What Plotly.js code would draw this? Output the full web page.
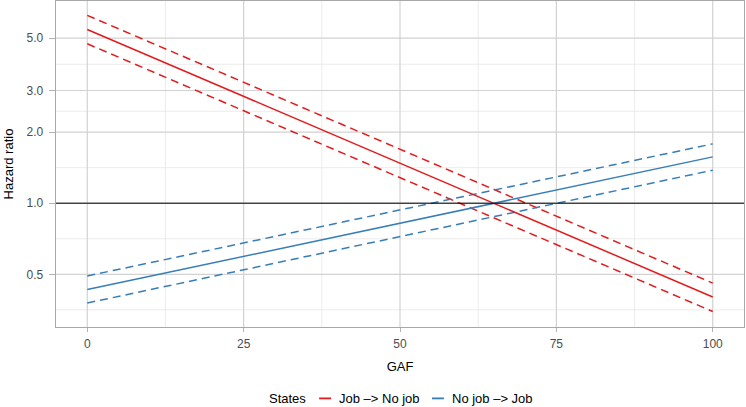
<!DOCTYPE html>
<html>
<head>
<meta charset="utf-8">
<script src="https://cdn.plot.ly/plotly-3.0.1.min.js"></script>
<style>html,body{margin:0;padding:0;background:#fff;}#chart{width:746px;height:407px;}</style>
</head>
<body>
<div id="chart"></div>
<script>
// GAF values at the ends of each fitted line
const gaf = [0, 100];

// State: Job -> No job (hazard ratio, lower CI, upper CI)
const jobToNoJob = [5.44, 0.401];
const jobToNoJobLower = [4.73, 0.348];
const jobToNoJobUpper = [6.24, 0.459];

// State: No job -> Job
const noJobToJob = [0.431, 1.571];
const noJobToJobLower = [0.378, 1.380];
const noJobToJobUpper = [0.492, 1.783];

const seriesNames = ['Job \u2013> No job', 'No job \u2013> Job'];
const legendTitle = 'States';
const xTicks = [0, 25, 50, 75, 100];
const yTicks = [0.5, 1.0, 2.0, 3.0, 5.0];
const yTickLabels = ['0.5', '1.0', '2.0', '3.0', '5.0'];
const referenceHR = 1;

const RED = '#E41A1C';
const BLUE = '#377EB8';
const colors = [RED, BLUE];
const DASH = '8px,5px';

function line(y, color, dashed) {
  return {
    x: gaf, y: y, type: 'scatter', mode: 'lines', showlegend: false,
    line: {color: color, width: 1.5, dash: dashed ? DASH : 'solid'},
    hoverinfo: 'skip'
  };
}

const traces = [
  line(jobToNoJobUpper, RED, true),
  line(jobToNoJobLower, RED, true),
  line(noJobToJobUpper, BLUE, true),
  line(noJobToJobLower, BLUE, true),
  line(jobToNoJob, RED, false),
  line(noJobToJob, BLUE, false)
];

// minor gridlines midway between major breaks (in transformed space, as ggplot does)
const yMinor = [yTicks[0] / Math.SQRT2];
for (let i = 1; i < yTicks.length; i++) yMinor.push(Math.sqrt(yTicks[i] * yTicks[i - 1]));
const xMinor = [];
for (let i = 1; i < xTicks.length; i++) xMinor.push((xTicks[i] + xTicks[i - 1]) / 2);

const MAJOR = {color: '#D2D2D2', width: 1.2};
const MINOR = {color: '#E4E4E4', width: 0.7};
const shapes = [];
xMinor.forEach(v => shapes.push({type: 'line', layer: 'below', xref: 'x', yref: 'paper', x0: v, x1: v, y0: 0, y1: 1, line: MINOR}));
yMinor.forEach(v => shapes.push({type: 'line', layer: 'below', xref: 'paper', yref: 'y', x0: 0, x1: 1, y0: v, y1: v, line: MINOR}));
xTicks.forEach(v => shapes.push({type: 'line', layer: 'below', xref: 'x', yref: 'paper', x0: v, x1: v, y0: 0, y1: 1, line: MAJOR}));
yTicks.forEach(v => shapes.push({type: 'line', layer: 'below', xref: 'paper', yref: 'y', x0: 0, x1: 1, y0: v, y1: v, line: MAJOR}));
shapes.push({type: 'line', xref: 'paper', x0: 0, x1: 1, yref: 'y', y0: referenceHR, y1: referenceHR,
  line: {color: '#000', width: 1}, layer: 'above'});

// legend drawn at the bottom, ggplot style (short keys)
const LEG_Y = -0.219;
const annotations = [
  {text: legendTitle, xref: 'paper', yref: 'paper', x: 0.307, y: LEG_Y, xanchor: 'left', yanchor: 'middle',
   showarrow: false, font: {size: 13, color: '#000'}}
];
const keyX = [[0.3824, 0.3998], [0.5465, 0.5639]];
const textX = [0.4085, 0.5726];
seriesNames.forEach((n, i) => {
  shapes.push({type: 'line', xref: 'paper', yref: 'paper', x0: keyX[i][0], x1: keyX[i][1], y0: LEG_Y, y1: LEG_Y,
    line: {color: colors[i], width: 1.8}});
  annotations.push({text: n, xref: 'paper', yref: 'paper', x: textX[i], y: LEG_Y, xanchor: 'left', yanchor: 'middle',
    showarrow: false, font: {size: 13, color: '#000'}});
});

const FONT = 'Liberation Sans, Arial, sans-serif';

const layout = {
  width: 746, height: 407,
  margin: {l: 56, r: 2, t: 1, b: 80, autoexpand: false},
  paper_bgcolor: '#fff', plot_bgcolor: '#fff',
  font: {family: FONT, size: 13, color: '#000'},
  showlegend: false,
  xaxis: {
    range: [-5, 105],
    tickmode: 'array', tickvals: xTicks,
    ticks: 'outside', ticklen: 4, tickcolor: '#B3B3B3', tickwidth: 1,
    ticklabelstandoff: 1,
    tickfont: {size: 12, color: '#4D4D4D'},
    showgrid: false, zeroline: false,
    showline: true, mirror: true, linecolor: '#A8A8A8', linewidth: 1.3,
    title: {text: 'GAF', font: {size: 13, color: '#000'}, standoff: 12}
  },
  yaxis: {
    type: 'log',
    range: [-0.524, 0.856],
    tickmode: 'array', tickvals: yTicks, ticktext: yTickLabels,
    ticks: 'outside', ticklen: 6, tickcolor: '#B3B3B3', tickwidth: 1,
    ticklabelstandoff: 3,
    tickfont: {size: 12, color: '#4D4D4D'},
    showgrid: false, zeroline: false,
    showline: true, mirror: true, linecolor: '#A8A8A8', linewidth: 1.3,
    title: {text: 'Hazard ratio', font: {size: 13, color: '#000'}, standoff: 10}
  },
  shapes: shapes,
  annotations: annotations
};

Plotly.newPlot('chart', traces, layout, {displayModeBar: false, staticPlot: true});
</script>
</body>
</html>
